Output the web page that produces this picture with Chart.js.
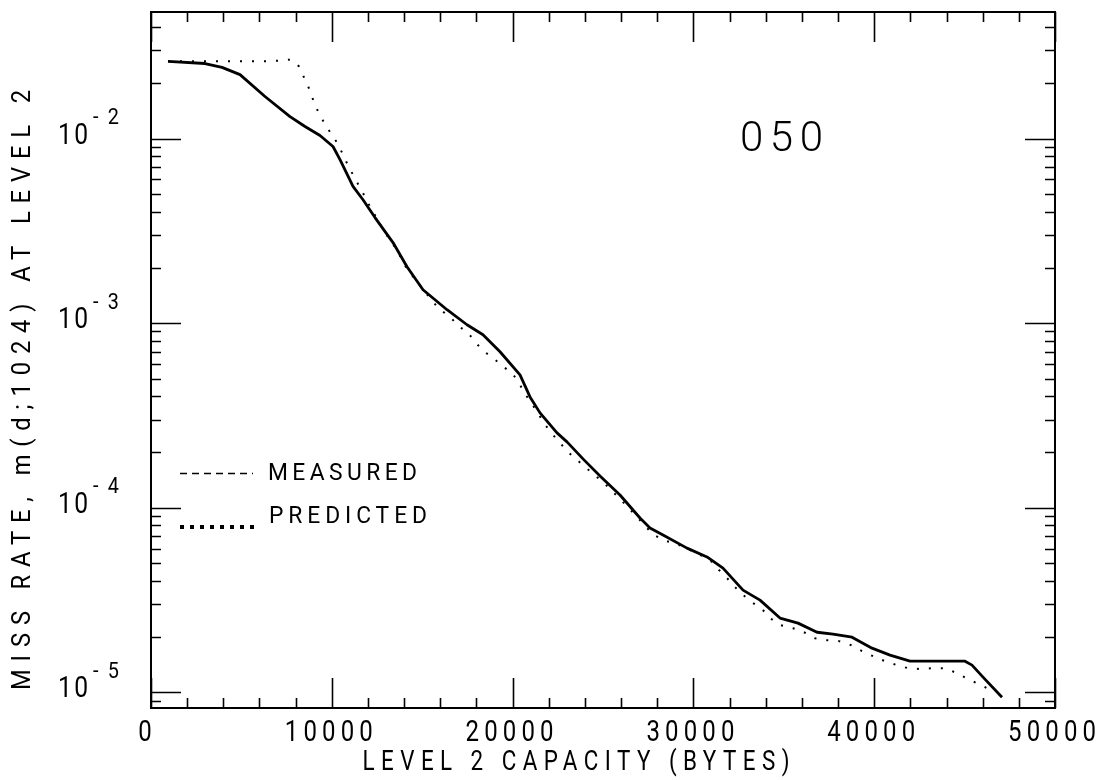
<!DOCTYPE html>
<html>
<head>
<meta charset="utf-8">
<script src="https://cdn.jsdelivr.net/npm/chart.js@4.4.1/dist/chart.umd.min.js"></script>
<style>
html,body{margin:0;padding:0;background:#fff;}
#wrap{width:1101px;height:780px;position:relative;}
</style>
</head>
<body>
<div id="wrap"><canvas id="c" width="1101" height="780"></canvas></div>
<script>
// ---- data ----
const measuredX = [940, 2987, 3927, 4923, 6305, 7688, 8518, 9347, 10066, 10454, 11173, 11726, 12390, 13385, 14159, 15044, 16372, 17478, 18363, 19304, 20410, 20963, 21516, 22456, 23009, 23894, 24834, 25940, 27046, 27600, 28319, 29646, 30752, 31637, 32744, 33684, 34790, 35786, 36837, 37722, 38773, 39879, 40875, 41981, 45023, 45410, 46018, 47069];
const measuredY = [0.0262, 0.0255, 0.0243, 0.0222, 0.0169, 0.01315, 0.01162, 0.01038, 0.00905, 0.00769, 0.0055, 0.00466, 0.00373, 0.00273, 0.00202, 0.001516, 0.001181, 0.000979, 0.000864, 0.000699, 0.000524, 0.000398, 0.000326, 0.000254, 0.000227, 0.0001836, 0.0001484, 0.000117, 8.78e-5, 7.75e-5, 7.1e-5, 6.03e-5, 5.4e-5, 4.7e-5, 3.57e-5, 3.15e-5, 2.52e-5, 2.365e-5, 2.11e-5, 2.06e-5, 1.985e-5, 1.73e-5, 1.586e-5, 1.471e-5, 1.471e-5, 1.4e-5, 1.205e-5, 9.38e-6];
const predictedX = [940, 2710, 4923, 6582, 7743, 8186, 8463, 8739, 8960, 9237, 9569, 9956, 10288, 10620, 10896, 11228, 11560, 11892, 12168, 12500, 12832, 13662, 13938, 14325, 14713, 15155, 15542, 15985, 16538, 16980, 17533, 17920, 18363, 18916, 19414, 19967, 20354, 20686, 21073, 21460, 21792, 22235, 22622, 23120, 23949, 25110, 26051, 26936, 27379, 27821, 28485, 29093, 30310, 30974, 31416, 31859, 32301, 32744, 33297, 33795, 34237, 34790, 35509, 36117, 36726, 37390, 38053, 38717, 39325, 39934, 40598, 41261, 41870, 42589, 43252, 43916, 44580, 45188, 45797, 46461];
const predictedY = [0.0262, 0.0262, 0.0262, 0.0262, 0.0268, 0.0246, 0.02143, 0.01868, 0.01628, 0.01401, 0.01221, 0.01064, 0.00951, 0.00819, 0.00714, 0.00622, 0.00542, 0.00473, 0.00417, 0.00368, 0.00321, 0.002437, 0.002125, 0.001875, 0.001675, 0.001479, 0.001321, 0.001181, 0.001082, 0.000967, 0.000886, 0.000791, 0.000708, 0.000648, 0.000586, 0.000537, 0.000474, 0.000413, 0.000365, 0.000318, 0.000281, 0.000248, 0.000224, 0.000198, 0.000168, 0.0001343, 0.0001086, 8.78e-5, 7.85e-5, 7.1e-5, 6.59e-5, 6.35e-5, 5.6e-5, 5.13e-5, 4.59e-5, 4.15e-5, 3.71e-5, 3.36e-5, 3.04e-5, 2.82e-5, 2.52e-5, 2.31e-5, 2.22e-5, 2.11e-5, 1.96e-5, 1.912e-5, 1.889e-5, 1.797e-5, 1.667e-5, 1.566e-5, 1.471e-5, 1.4e-5, 1.348e-5, 1.331e-5, 1.348e-5, 1.348e-5, 1.266e-5, 1.175e-5, 1.104e-5, 1.024e-5];

const xTickValues = [0, 10000, 20000, 30000, 40000, 50000];
const xTickLabels = ["0", "10000", "20000", "30000", "40000", "50000"];
const xMinorStep = 2000;
const yTickValues = [1e-2, 1e-3, 1e-4, 1e-5];
const yTickExponents = ["-2", "-3", "-4", "-5"];
const xTitle = "LEVEL 2 CAPACITY (BYTES)";
const yTitle = "MISS RATE, m(d;1024) AT LEVEL 2";
const legendLabels = ["MEASURED", "PREDICTED"];
const annotationText = "050";
const xMin = 0, xMax = 50000, yMin = 8.2e-6, yMax = 0.0485;

const FONT = "'Roboto','Liberation Sans','DejaVu Sans',sans-serif";

function spacedText(ctx, str, x, y, o) {
  ctx.save();
  ctx.translate(x, y);
  if (o.rotate) ctx.rotate(-Math.PI / 2);
  const hs = o.hs || 1;
  ctx.scale(hs, 1);
  ctx.font = (o.weight || 400) + " " + o.size + "px " + FONT;
  ctx.fillStyle = "#000";
  ctx.textBaseline = "middle";
  ctx.textAlign = "left";
  const w = ctx.measureText(str).width;
  const n = str.length;
  let ls = 0;
  if (o.width && n > 1 && ("letterSpacing" in ctx)) {
    ls = (o.width / hs - w) / (n - 1);
    ctx.letterSpacing = ls + "px";
  }
  const total = w + ls * (n - 1);
  let sx = 0;
  if (o.align === "center") sx = -total / 2;
  else if (o.align === "right") sx = -total;
  ctx.fillText(str, sx, 0);
  ctx.restore();
}

const framePlugin = {
  id: "frame",
  afterDraw(chart) {
    const ctx = chart.ctx;
    const xs = chart.scales.x, ys = chart.scales.y;
    const a = chart.chartArea;
    ctx.save();
    ctx.strokeStyle = "#000";
    ctx.lineWidth = 2;
    ctx.strokeRect(a.left, a.top, a.right - a.left, a.bottom - a.top);
    ctx.lineWidth = 1.6;
    ctx.beginPath();
    // x ticks (top & bottom, inward)
    for (let v = xMin; v <= xMax; v += xMinorStep) {
      const px = Math.round(xs.getPixelForValue(v)) + 0.5;
      const major = xTickValues.includes(v);
      const len = major ? 30 : 10;
      ctx.moveTo(px, a.bottom); ctx.lineTo(px, a.bottom - len);
      ctx.moveTo(px, a.top); ctx.lineTo(px, a.top + len);
    }
    // y ticks (left & right, inward)
    for (let e = -6; e <= -1; e++) {
      for (let m = 1; m <= 9; m++) {
        const v = m * Math.pow(10, e);
        if (v < yMin || v > yMax) continue;
        const py = Math.round(ys.getPixelForValue(v)) + 0.5;
        const len = m === 1 ? 30 : 10;
        ctx.moveTo(a.left, py); ctx.lineTo(a.left + len, py);
        ctx.moveTo(a.right, py); ctx.lineTo(a.right - len, py);
      }
    }
    ctx.stroke();

    // x tick labels
    xTickValues.forEach((v, i) => {
      const px = xs.getPixelForValue(v);
      const lab = xTickLabels[i];
      spacedText(ctx, lab, px - (lab.length > 1 ? 3 : 6), 733, {size: 30, hs: 0.8, width: lab.length > 1 ? 88 : null, align: "center"});
    });
    // y tick labels: 10 with superscript exponent
    yTickValues.forEach((v, i) => {
      const py = ys.getPixelForValue(v);
      spacedText(ctx, "10", 88, py - 2, {size: 29, hs: 0.85, width: 30, align: "right"});
      spacedText(ctx, yTickExponents[i], 93, py - 20, {size: 22, hs: 0.9, width: 26, align: "left"});
    });

    // axis titles
    spacedText(ctx, xTitle, 576, 763, {size: 28, hs: 0.8, width: 427, align: "center"});
    spacedText(ctx, yTitle, 24, 390, {size: 25, hs: 0.95, width: 600, align: "center", rotate: true});

    // annotation
    spacedText(ctx, annotationText, 740, 140, {size: 42, hs: 1, weight: 300, width: 83, align: "left"});

    // legend
    ctx.lineWidth = 1.5;
    ctx.setLineDash([7, 5]);
    ctx.beginPath(); ctx.moveTo(180, 473.5); ctx.lineTo(253, 473.5); ctx.stroke();
    ctx.setLineDash([4, 6]);
    ctx.lineWidth = 4;
    ctx.beginPath(); ctx.moveTo(180, 527); ctx.lineTo(256, 527); ctx.stroke();
    ctx.setLineDash([]);
    spacedText(ctx, legendLabels[0], 268, 474, {size: 24, hs: 0.95, width: 149, align: "left"});
    spacedText(ctx, legendLabels[1], 269, 517, {size: 24, hs: 0.95, width: 158, align: "left"});
    ctx.restore();
  }
};

const toPts = (xa, ya) => xa.map((x, i) => ({x: x, y: ya[i]}));

new Chart(document.getElementById("c"), {
  type: "line",
  data: {
    datasets: [
      {label: legendLabels[0], data: toPts(measuredX, measuredY), borderColor: "#000", borderWidth: 2.8, pointRadius: 0, tension: 0, fill: false, borderJoinStyle: "round"},
      {label: legendLabels[1], data: toPts(predictedX, predictedY), borderColor: "#000", borderWidth: 2, borderDash: [2, 10], borderCapStyle: "butt", pointRadius: 0, tension: 0, fill: false}
    ]
  },
  options: {
    responsive: false,
    animation: false,
    events: [],
    layout: {padding: {left: 151, top: 12, right: 46, bottom: 72}},
    plugins: {legend: {display: false}, tooltip: {enabled: false}},
    scales: {
      x: {type: "linear", min: xMin, max: xMax, display: false},
      y: {type: "logarithmic", min: yMin, max: yMax, display: false}
    }
  },
  plugins: [framePlugin]
});
</script>
</body>
</html>
